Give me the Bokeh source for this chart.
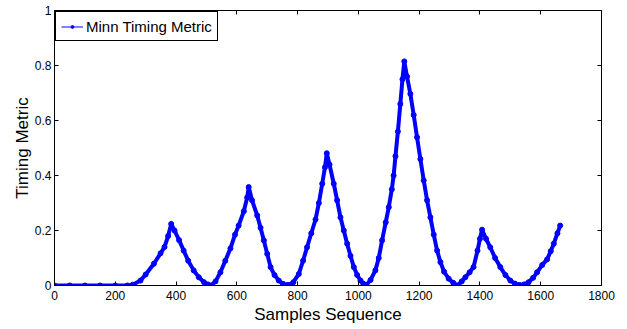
from bokeh.plotting import figure
from bokeh.models import LinearAxis, Range1d, FixedTicker, Legend, LegendItem
from bokeh.embed import file_html
from bokeh.resources import INLINE

# Timing metric sampled along the received sequence
sample_idx = [
    0, 50, 100, 150, 200, 240, 258, 283, 300, 327, 349, 362, 374, 384,
    395, 410, 425, 440, 458, 475, 492, 505, 515, 530, 546, 562, 579, 594,
    606, 623, 634, 639, 650, 667, 678, 689, 700, 711, 724, 738, 752, 768,
    786, 804, 818, 831, 845, 859, 870, 881, 890, 896, 905, 919, 930, 941,
    952, 963, 974, 985, 996, 1007, 1016, 1026, 1040, 1056, 1067, 1078, 1090,
    1100, 1110, 1116, 1122, 1130, 1138, 1145, 1151, 1160, 1171, 1182, 1193,
    1204, 1215, 1226, 1237, 1248, 1259, 1270, 1282, 1297, 1312, 1327, 1340,
    1352, 1366, 1379, 1392, 1400, 1407, 1420, 1434, 1450, 1467, 1484, 1500,
    1515, 1530, 1545, 1560, 1575, 1588, 1605, 1621, 1633, 1643, 1655, 1664,
]
timing_metric = [
    0.0, 0.0, 0.0, 0.0, 0.0, 0.0, 0.003, 0.018, 0.04, 0.079, 0.117, 0.14, 0.18, 0.224,
    0.2, 0.165, 0.127, 0.09, 0.055, 0.03, 0.012, 0.004, 0.0, 0.015, 0.048, 0.09, 0.135, 0.185,
    0.218, 0.27, 0.32, 0.358, 0.31, 0.255, 0.21, 0.164, 0.115, 0.067, 0.038, 0.018, 0.006, 0.002,
    0.012, 0.042, 0.09, 0.139, 0.19, 0.24, 0.3, 0.37, 0.43, 0.481, 0.44, 0.37, 0.31, 0.248,
    0.2, 0.152, 0.108, 0.067, 0.038, 0.018, 0.007, 0.002, 0.02, 0.055, 0.1, 0.164, 0.23,
    0.285, 0.35, 0.4, 0.47, 0.56, 0.66, 0.75, 0.815, 0.76, 0.697, 0.62, 0.539,
    0.46, 0.382, 0.31, 0.248, 0.185, 0.127, 0.085, 0.05, 0.025, 0.01, 0.0, 0.015,
    0.03, 0.048, 0.067, 0.127, 0.17, 0.203, 0.17, 0.139, 0.1, 0.067, 0.038, 0.018,
    0.007, 0.002, 0.004, 0.012, 0.028, 0.048, 0.075, 0.095, 0.125, 0.152, 0.19, 0.218,
]

x_ticks = [0, 200, 400, 600, 800, 1000, 1200, 1400, 1600, 1800]
y_ticks = [0, 0.2, 0.4, 0.6, 0.8, 1]
y_tick_labels = ["0", "0.2", "0.4", "0.6", "0.8", "1"]

series_name = "Minn Timing Metric"
x_title = "Samples Sequence"
y_title = "Timing Metric"

BLUE = "#0000ff"
FONT = "Liberation Sans, Arial, sans-serif"

p = figure(
    width=627, height=329,
    x_range=Range1d(0, 1800), y_range=Range1d(0, 1),
    output_backend="svg", toolbar_location=None,
    min_border_left=54, min_border_right=26,
    min_border_top=10, min_border_bottom=44,
    x_axis_location=None, y_axis_location=None,
)
p.grid.visible = False
p.outline_line_color = "black"
p.outline_line_width = 1
p.background_fill_color = "white"
p.border_fill_color = "white"


def box_axis(axis, ticks, show_labels):
    axis.ticker = FixedTicker(ticks=ticks)
    axis.major_tick_in = 4
    axis.major_tick_out = 0
    axis.minor_tick_line_color = None
    axis.axis_line_color = "black"
    axis.major_tick_line_color = "black"
    axis.major_label_text_font = FONT
    axis.major_label_text_font_size = "12px"
    axis.major_label_text_color = "black"
    axis.major_label_standoff = 3
    if not show_labels:
        axis.major_label_text_font_size = "0px"
        axis.major_label_text_color = None
    return axis


xb = box_axis(LinearAxis(), x_ticks, True)
xb.major_label_standoff = 5
xb.axis_label = x_title
xb.axis_label_text_font = FONT
xb.axis_label_text_font_size = "17px"
xb.axis_label_text_font_style = "normal"
xb.axis_label_text_color = "black"
xb.axis_label_standoff = 2
p.add_layout(xb, "below")

yl = box_axis(LinearAxis(), y_ticks, True)
yl.major_label_overrides = {t: s for t, s in zip(y_ticks, y_tick_labels)}
yl.axis_label = y_title
yl.axis_label_text_font = FONT
yl.axis_label_text_font_size = "17px"
yl.axis_label_text_font_style = "normal"
yl.axis_label_text_color = "black"
yl.axis_label_standoff = 0
p.add_layout(yl, "left")

xt = box_axis(LinearAxis(), x_ticks, False)
p.add_layout(xt, "above")
yr = box_axis(LinearAxis(), y_ticks, False)
p.add_layout(yr, "right")

# the trace: a thick line with a dot at every read sample
p.line(sample_idx, timing_metric, line_color=BLUE, line_width=4)
p.scatter(sample_idx, timing_metric, marker="circle", size=5,
          fill_color=BLUE, line_color=BLUE)

# thin off-screen proxies so the legend swatch is a fine line with a small dot
key_line = p.line(x=[-500, -400], y=[-1, -1], line_color=BLUE, line_width=1)
key_dot = p.scatter(x=[-500], y=[-1], marker="circle", size=3,
                    fill_color=BLUE, line_color=BLUE)

legend = Legend(
    items=[LegendItem(label=series_name, renderers=[key_line, key_dot])],
    location="top_left",
    margin=1,
    padding=5,
    spacing=0,
    label_text_font=FONT,
    label_text_font_size="15px",
    label_text_color="black",
    label_standoff=3,
    label_height=18,
    glyph_width=22,
    glyph_height=7,
    border_line_color="black",
    border_line_width=1,
    border_line_alpha=1,
    background_fill_color="white",
    background_fill_alpha=1,
)
p.add_layout(legend)

open("out.html", "w").write(file_html(p, INLINE))
